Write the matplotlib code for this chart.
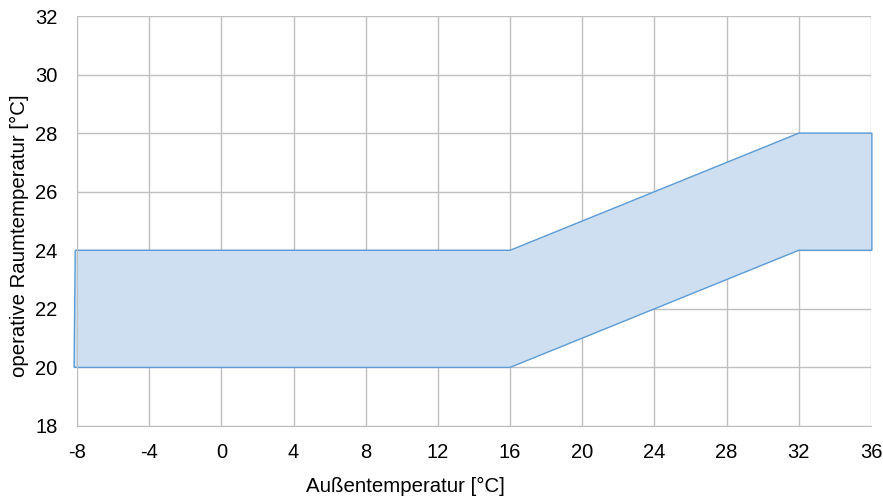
import matplotlib.pyplot as plt
import numpy as np

# Komfortband: Außentemperatur vs. operative Raumtemperatur
x_upper = [-8.1, 16, 32, 36.05]
y_upper = [24, 24, 28, 28]
x_lower = [-8.16, 16, 32, 36.05]
y_lower = [20, 20, 24, 24]

x_ticks = [-8, -4, 0, 4, 8, 12, 16, 20, 24, 28, 32, 36]
y_ticks = [18, 20, 22, 24, 26, 28, 30, 32]

plt.rcParams['font.family'] = ['Liberation Sans', 'DejaVu Sans']
plt.rcParams['axes.unicode_minus'] = False

fig = plt.figure(figsize=(8.83, 4.97), dpi=100)
ax = fig.add_axes([0.0872, 0.1429, 0.8992, 0.8249])

poly_x = x_lower + x_upper[::-1]
poly_y = y_lower + y_upper[::-1]
ax.fill(poly_x, poly_y, facecolor='#cddff0', edgecolor='#5b9bd5', linewidth=1.0,
        zorder=2, clip_on=False)

ax.set_xlim(-8, 36)
ax.set_ylim(18, 32)
ax.set_xticks(x_ticks)
ax.set_yticks(y_ticks)
ax.grid(True, color='#bfbfbf', linewidth=1.0, zorder=1)
ax.set_axisbelow(True)
for side in ['top', 'right']:
    ax.spines[side].set_visible(False)
for side in ['left', 'bottom']:
    ax.spines[side].set_color('#bfbfbf')
ax.tick_params(axis='both', length=0, labelsize=14.5, colors='black')
ax.tick_params(axis='x', pad=12.5)
ax.tick_params(axis='y', pad=14)
ax.set_xlabel('Außentemperatur [°C]', fontsize=14.7, labelpad=9)
ax.xaxis.set_label_coords(0.414, -0.125)
ax.set_ylabel('operative Raumtemperatur [°C]', fontsize=14.7, labelpad=6)
ax.yaxis.set_label_coords(-0.061, 0.463)

plt.savefig('out.png', dpi=100)
